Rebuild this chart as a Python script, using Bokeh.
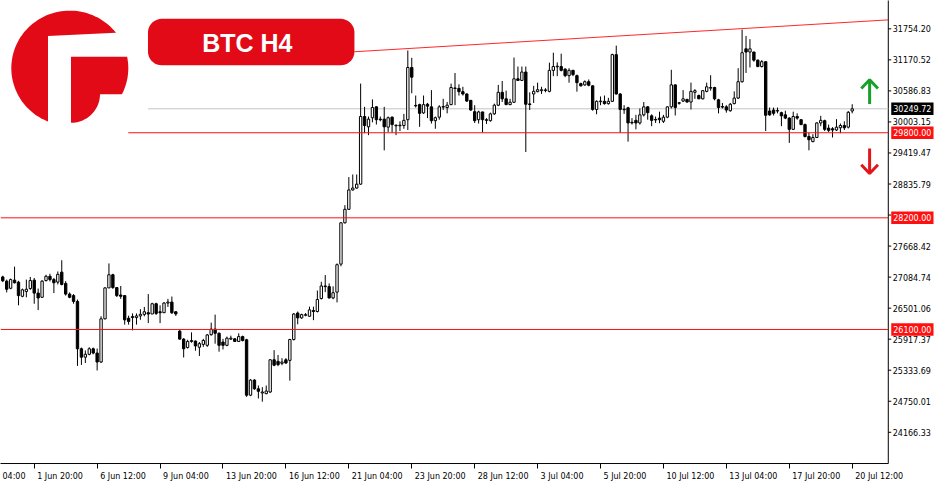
import numpy as np
from bokeh.plotting import figure
from bokeh.models import ColumnDataSource, Range1d, FixedTicker, Label
from bokeh.embed import file_html
from bokeh.resources import INLINE
from bokeh.core.properties import value

# ---------------- data (BTC H4, one value per 4-hour bar) ----------------
symbol = "BTC H4"

opens = [
    27088, 27009, 26875, 27028, 26990, 26724, 26815, 26869, 27028, 26784,
    26706, 27020, 27100, 27038, 26991, 27178, 26966, 26766, 26737, 26628,
    25737, 25579, 25633, 25737, 25657, 25488, 26300, 26882, 27129, 26888,
    26748, 26737, 26311, 26342, 26324, 26355, 26384, 26415, 26391, 26584,
    26433, 26415, 26597, 26615, 26433, 26069, 25919, 25760, 25875, 25882,
    25766, 25820, 25802, 26002, 26106, 26028, 25864, 25802, 25919, 25924,
    25875, 25966, 25906, 24864, 25148, 24984, 24906, 24893, 24924, 25530,
    25500, 25464, 25530, 25519, 25911, 26409, 26318, 26366, 26348, 26457,
    26438, 26682, 26918, 26906, 26693, 26802, 27329, 28106, 28360, 28724,
    28760, 28833, 30105, 29911, 30082, 30287, 30056, 30056, 29905, 30093,
    29942, 29931, 29936, 30045, 31027, 30314, 30329, 30173, 30336, 30287,
    30027, 30093, 30282, 30274, 30329, 30642, 30633, 30573, 30529, 30409,
    30196, 30045, 30191, 30045, 30027, 30155, 30318, 30560, 30438, 30329,
    30373, 30814, 30784, 30942, 30342, 30529, 30573, 30591, 30605, 30578,
    30973, 31040, 31045, 30996, 30874, 30973, 30874, 30724, 30700, 30760,
    30682, 30238, 30385, 30391, 30347, 30391, 31269, 30529, 30242, 30269,
    29996, 30033, 29984, 30136, 30287, 30118, 30051, 30075, 30015, 30093,
    30287, 30700, 30354, 30396, 30427, 30378, 30560, 30500, 30438, 30578,
    30638, 30651, 30420, 30293, 30287, 30214, 30347, 30451, 30760, 31378,
    31318, 31318, 31165, 31045, 31136, 30209, 30227, 30207, 30178, 30136,
    30075, 29864, 30105, 30045, 29954, 29729, 29633, 29711, 29984, 30027,
    29887, 29875, 29851, 29893, 29936, 29905, 30209,
]
highs = [
    27111, 27038, 27057, 27282, 27015, 26869, 27038, 27088, 27069, 26869,
    27028, 27129, 27148, 27069, 27191, 27402, 27009, 26797, 26766, 26664,
    25760, 25706, 25766, 25760, 25742, 26348, 26893, 27342, 27148, 26893,
    26918, 26748, 26360, 26402, 26402, 26482, 26524, 26766, 26602, 26602,
    26555, 26615, 26675, 26719, 26446, 26093, 25937, 25906, 26046, 25893,
    25864, 25924, 26015, 26228, 26379, 26046, 25924, 25966, 25984, 25937,
    26028, 25984, 25924, 25166, 25166, 25046, 25015, 25046, 25542, 25711,
    25620, 25560, 25560, 25924, 26409, 26438, 26397, 26409, 26529, 26529,
    26833, 26997, 27124, 26966, 26911, 27342, 28118, 28438, 28966, 29015,
    29015, 30724, 30287, 30105, 30427, 30300, 30105, 30287, 30105, 30105,
    29954, 30015, 30155, 31347, 31209, 30500, 30347, 30500, 30360, 30602,
    30105, 30318, 30438, 30378, 30724, 30924, 30711, 30664, 30542, 30414,
    30318, 30214, 30196, 30075, 30178, 30347, 30700, 30773, 30591, 30438,
    31214, 31045, 31045, 31045, 30560, 30682, 30742, 30664, 30638, 31118,
    31305, 31124, 31287, 31014, 31014, 30984, 30893, 30742, 30784, 30802,
    30693, 30409, 30482, 30500, 30456, 31287, 31438, 30542, 30318, 30287,
    30075, 30136, 30256, 30378, 30300, 30147, 30105, 30196, 30136, 30300,
    30984, 30711, 30378, 30602, 30438, 30742, 30620, 30518, 30602, 30742,
    30882, 30664, 30438, 30360, 30318, 30360, 30578, 31014, 31740, 31620,
    31560, 31323, 31178, 31165, 31147, 30274, 30274, 30274, 30196, 30214,
    30093, 30196, 30165, 30056, 29973, 29802, 29773, 29996, 30118, 30045,
    29954, 29905, 30056, 29973, 30015, 30209, 30336,
]
lows = [
    26991, 26797, 26857, 26966, 26555, 26706, 26706, 26846, 26584, 26464,
    26693, 27002, 27002, 26784, 26947, 26929, 26737, 26688, 26584, 25415,
    25433, 25470, 25615, 25633, 25329, 25470, 26288, 26880, 26864, 26711,
    26675, 26191, 26191, 26082, 26191, 26282, 26348, 26220, 26391, 26373,
    26220, 26409, 26524, 26391, 26355, 25906, 25573, 25742, 25851, 25700,
    25602, 25773, 25773, 25984, 25833, 25682, 25724, 25784, 25906, 25864,
    25864, 25875, 24833, 24846, 24966, 24802, 24742, 24882, 24906, 25410,
    25410, 25428, 25451, 25137, 25893, 26197, 26300, 26348, 26337, 26275,
    26420, 26664, 26802, 26682, 26669, 26609, 27288, 28093, 28347, 28711,
    28747, 28820, 29791, 29755, 29996, 29954, 30015, 29469, 29815, 29802,
    29755, 29833, 29875, 29851, 30542, 30274, 29911, 30155, 30075, 29973,
    29875, 30045, 30227, 30165, 30318, 30318, 30500, 30500, 30378, 30214,
    29984, 29973, 29802, 29965, 30009, 30136, 30300, 30378, 30318, 30318,
    30360, 30773, 30773, 29438, 30227, 30360, 30560, 30529, 30560, 30560,
    30864, 30864, 30954, 30845, 30742, 30864, 30573, 30669, 30682, 30674,
    30214, 30147, 30318, 30329, 30329, 30378, 30518, 29802, 30155, 29633,
    29954, 29864, 29954, 30105, 30045, 29924, 29984, 29978, 29984, 30075,
    30256, 30124, 30329, 30378, 30365, 30238, 30438, 30438, 30427, 30560,
    30591, 30409, 30165, 30256, 30178, 30196, 30336, 30438, 30742, 30924,
    31027, 31136, 31033, 31027, 29833, 30118, 30124, 30165, 29924, 30056,
    29609, 29851, 30045, 29942, 29711, 29469, 29620, 29700, 29924, 29833,
    29815, 29711, 29833, 29791, 29851, 29880, 30165,
]
closes = [
    27015, 26857, 27038, 26978, 26737, 26846, 26857, 27020, 26784, 26693,
    27009, 27100, 27038, 26978, 27137, 26947, 26766, 26706, 26628, 25737,
    25579, 25633, 25737, 25657, 25488, 26300, 26882, 27129, 26888, 26737,
    26724, 26282, 26251, 26324, 26355, 26384, 26433, 26391, 26584, 26402,
    26415, 26597, 26615, 26415, 26391, 25919, 25737, 25875, 25893, 25791,
    25833, 25893, 25997, 26106, 26028, 25802, 25802, 25937, 25937, 25875,
    25966, 25893, 24864, 25148, 24984, 24937, 24924, 24942, 25530, 25428,
    25439, 25488, 25470, 25911, 26391, 26318, 26379, 26379, 26469, 26438,
    26664, 26918, 26906, 26693, 26791, 27318, 28106, 28360, 28724, 28760,
    28833, 30105, 29936, 30056, 30275, 30045, 30045, 29911, 30082, 29954,
    29931, 29942, 30033, 31027, 30845, 30305, 30165, 30329, 30300, 30027,
    30082, 30287, 30293, 30318, 30651, 30633, 30573, 30529, 30396, 30227,
    30027, 30191, 30045, 30033, 30155, 30318, 30560, 30438, 30329, 30373,
    30814, 30784, 30942, 30336, 30331, 30578, 30609, 30609, 30596, 30973,
    31045, 31051, 30973, 30874, 30973, 30893, 30742, 30682, 30760, 30693,
    30238, 30391, 30396, 30347, 30391, 31269, 30529, 30238, 30233, 29984,
    29985, 29984, 30136, 30287, 30178, 30033, 30040, 30045, 30093, 30287,
    30700, 30274, 30365, 30438, 30378, 30578, 30591, 30438, 30591, 30664,
    30651, 30438, 30274, 30282, 30227, 30336, 30451, 30760, 31305, 31318,
    31378, 31165, 31045, 31136, 30129, 30136, 30165, 30218, 30118, 30075,
    29864, 30105, 30075, 29954, 29729, 29669, 29711, 29984, 30033, 29864,
    29845, 29851, 29905, 29936, 29893, 30184, 30249.72,
]

# time axis: bar index of each tick and its label (the first one is cut in the source)
time_ticks = [-8, 8, 24, 40, 56, 72, 88, 104, 120, 136, 152, 168, 184, 200, 216]
time_labels = ["04:00", "1 Jun 20:00", "6 Jun 12:00", "9 Jun 04:00",
               "13 Jun 20:00", "16 Jun 12:00", "21 Jun 04:00", "23 Jun 20:00",
               "28 Jun 12:00", "3 Jul 04:00", "5 Jul 20:00", "10 Jul 12:00",
               "13 Jul 04:00", "17 Jul 20:00", "20 Jul 12:00"]

# price scale ticks
price_ticks = [31754.20, 31170.52, 30586.83, 30003.15, 29419.47, 28835.79, 28252.10,
               27668.42, 27084.74, 26501.06, 25917.37, 25333.69, 24750.01, 24166.33]

# drawn objects
levels_red = [29800.00, 28200.00, 26100.00]
last_price = 30249.72
trend_bars = [89.4, 226.0]
trend_prices = [31323.0, 31926.0]

# ---------------- layout helpers (reference pixel -> data) ----------------
PX_BAR0, PX_PER_BAR = 2.3, 4.0
PRICE_AT_TOP, PRICE_PER_PX = 32287.0, 18.18
REF_W, REF_H = 950, 480          # reference area covered by our frame, pixels
FRAME_W, FRAME_H = 934, 464      # our frame (fits the window)
SX, SY = FRAME_W / REF_W, FRAME_H / REF_H
AXIS_PX = 903                    # price scale line position (reference pixels)


def bx(px):
    return (px - PX_BAR0) / PX_PER_BAR


def py(px):
    return PRICE_AT_TOP - PRICE_PER_PX * px


X0, X1 = bx(0), bx(REF_W)
Y0, Y1 = py(REF_H), py(0)

RED = "#ff1010"
BRAND = "#e20a17"
FONT = "DejaVu Sans"
FS = "8px"

p = figure(frame_width=FRAME_W, frame_height=FRAME_H,
           x_range=Range1d(X0, X1), y_range=Range1d(Y0, Y1),
           y_axis_location=None, output_backend="svg", toolbar_location=None,
           min_border=0, min_border_left=0, min_border_top=0, min_border_right=0,
           min_border_bottom=20, background_fill_color="white", border_fill_color="white")
p.grid.visible = False
p.outline_line_color = None

# ---------------- bottom time axis ----------------
EM = {"0": .636, "1": .636, "2": .636, "3": .636, "4": .636, "5": .636, "6": .636,
      "7": .636, "8": .636, "9": .636, " ": .318, ":": .337, "J": .295, "u": .634,
      "n": .634, "l": .278, "M": .863, "a": .613, "y": .592}


def text_w(s, size=8.0):
    return size * sum(EM.get(ch, 0.6) for ch in s)


ppb = PX_PER_BAR * SX
centers, overrides = [], {}
for kt, lab in zip(time_ticks, time_labels):
    w = text_w(lab)
    cx_px = (kt - X0) * ppb + 3 + w / 2
    cx_px = max(cx_px, w / 2 + 2)
    c = round(X0 + cx_px / ppb, 4)
    centers.append(c)
    overrides[c] = lab

xa = p.xaxis[0]
xa.ticker = FixedTicker(ticks=centers, minor_ticks=[t for t in time_ticks if X0 <= t <= X1])
xa.major_label_overrides = overrides
xa.major_label_text_font = FONT
xa.major_label_text_font_size = FS
xa.major_label_text_color = "black"
xa.major_label_standoff = 3
xa.major_tick_line_color = None
xa.major_tick_out = 4
xa.major_tick_in = 0
xa.minor_tick_line_color = "black"
xa.minor_tick_out = 4
xa.minor_tick_in = 1
xa.axis_line_color = None

# chart border lines (bottom and price-scale line)
p.segment(x0=bx(-2), y0=py(479), x1=bx(AXIS_PX), y1=py(479), line_color="black", line_width=1)
p.segment(x0=bx(AXIS_PX), y0=py(-2), x1=bx(AXIS_PX), y1=py(479), line_color="black", line_width=1)

# current price (gray) line behind candles
p.segment(x0=bx(150), y0=last_price, x1=bx(AXIS_PX), y1=last_price,
          line_color="#c4c4c4", line_width=1)

# ---------------- candles ----------------
idx = list(range(len(opens)))
src = ColumnDataSource(dict(
    k=idx, o=opens, h=highs, l=lows, c=closes,
    top=[max(a, b) for a, b in zip(opens, closes)],
    bot=[min(a, b) for a, b in zip(opens, closes)],
    fill=["white" if c >= o else "black" for o, c in zip(opens, closes)],
))
p.segment(x0="k", y0="h", x1="k", y1="l", source=src, line_color="black", line_width=1)
p.vbar(x="k", width=0.6, top="top", bottom="bot", source=src,
       fill_color="fill", line_color="black", line_width=1)

# support / resistance lines
starts = [130, 0, 0]
for lvl, s in zip(levels_red, starts):
    p.segment(x0=bx(s), y0=lvl, x1=bx(AXIS_PX), y1=lvl, line_color=RED, line_width=1)

# trend line (clipped at the price scale)
t_end = bx(AXIS_PX)
t_slope = (trend_prices[1] - trend_prices[0]) / (trend_bars[1] - trend_bars[0])
p.line([trend_bars[0], t_end], [trend_prices[0], trend_prices[0] + t_slope * (t_end - trend_bars[0])],
       line_color=RED, line_width=1, line_alpha=0.9)

# ---------------- price scale: ticks, labels ----------------
p.segment(x0=[bx(AXIS_PX)] * len(price_ticks), y0=price_ticks,
          x1=[bx(AXIS_PX + 3)] * len(price_ticks), y1=price_ticks,
          line_color="black", line_width=1)
p.text(x=[bx(AXIS_PX + 4.5)] * len(price_ticks), y=price_ticks,
       text=[f"{v:.2f}" for v in price_ticks],
       text_font=value(FONT), text_font_size=value(FS), text_color="black",
       text_align="left", text_baseline="middle")

# price tags
tag_prices = levels_red + [last_price]
tag_colors = [RED] * len(levels_red) + ["black"]
half = 6.5 * PRICE_PER_PX / SY * SY  # 6.5 px half-height in price units
p.quad(left=[bx(AXIS_PX + 3)] * len(tag_prices), right=[bx(AXIS_PX + 46)] * len(tag_prices),
       top=[v + half for v in tag_prices], bottom=[v - half for v in tag_prices],
       fill_color=tag_colors, line_color=None)
p.text(x=[bx(AXIS_PX + 5)] * len(tag_prices), y=tag_prices,
       text=[f"{v:.2f}" for v in tag_prices],
       text_font=value(FONT), text_font_size=value(FS), text_color="white",
       text_align="left", text_baseline="middle")

# ---------------- logo ----------------
t = np.linspace(0, 2 * np.pi, 140)
disk_x = 70.5 + 59.5 * np.cos(t)
disk_y = 70.0 + 59.5 * np.sin(t)
p.patch([bx(v) for v in disk_x], [py(v) for v in disk_y], fill_color=BRAND, line_color=None)
gamma = [(48.3, 36.7), (117.3, 33.3), (131, 33.3), (131, 58.3), (71.7, 58.3),
         (71.7, 131), (48.3, 131)]
p.patch([bx(a) for a, b in gamma], [py(b) for a, b in gamma], fill_color="white", line_color=None)
ta = np.radians(np.linspace(90, 0, 20))
cut_x = list(71.7 + 29.5 * np.cos(ta)) + [131, 131, 71.7]
cut_y = list(97.0 + 29.5 * np.sin(ta)) + [97, 131, 131]
p.patch([bx(v) for v in cut_x], [py(v) for v in cut_y], fill_color="white", line_color=None)


# ---------------- title box ----------------
def rounded_rect(x0, y0, x1, y1, r, n=10):
    xs, ys = [], []
    corners = [(x1 - r, y0 + r, -90, 0), (x1 - r, y1 - r, 0, 90),
               (x0 + r, y1 - r, 90, 180), (x0 + r, y0 + r, 180, 270)]
    for cx, cy, a0, a1 in corners:
        tt = np.radians(np.linspace(a0, a1, n))
        xs += list(cx + r * np.cos(tt))
        ys += list(cy + r * np.sin(tt))
    return xs, ys


rx, ry = rounded_rect(150, 19, 360, 67, 14)
p.patch([bx(v) for v in rx], [py(v) for v in ry], fill_color=BRAND, line_color=None)
p.add_layout(Label(x=bx(251), y=py(43.5), text=symbol, text_align="center",
                   text_baseline="middle", text_font="Liberation Sans",
                   text_font_style="bold", text_font_size="25px", text_color="white"))

# ---------------- arrows ----------------
p.multi_line(xs=[[bx(884), bx(884)], [bx(875.5), bx(884), bx(892.5)]],
             ys=[[py(107), py(83)], [py(91), py(82), py(91)]],
             line_color="#17a02a", line_width=3)
p.multi_line(xs=[[bx(884), bx(884)], [bx(875.5), bx(884), bx(892.5)]],
             ys=[[py(153), py(178)], [py(170), py(179), py(170)]],
             line_color="#e4141c", line_width=3)

open("out.html", "w").write(file_html(p, INLINE))
